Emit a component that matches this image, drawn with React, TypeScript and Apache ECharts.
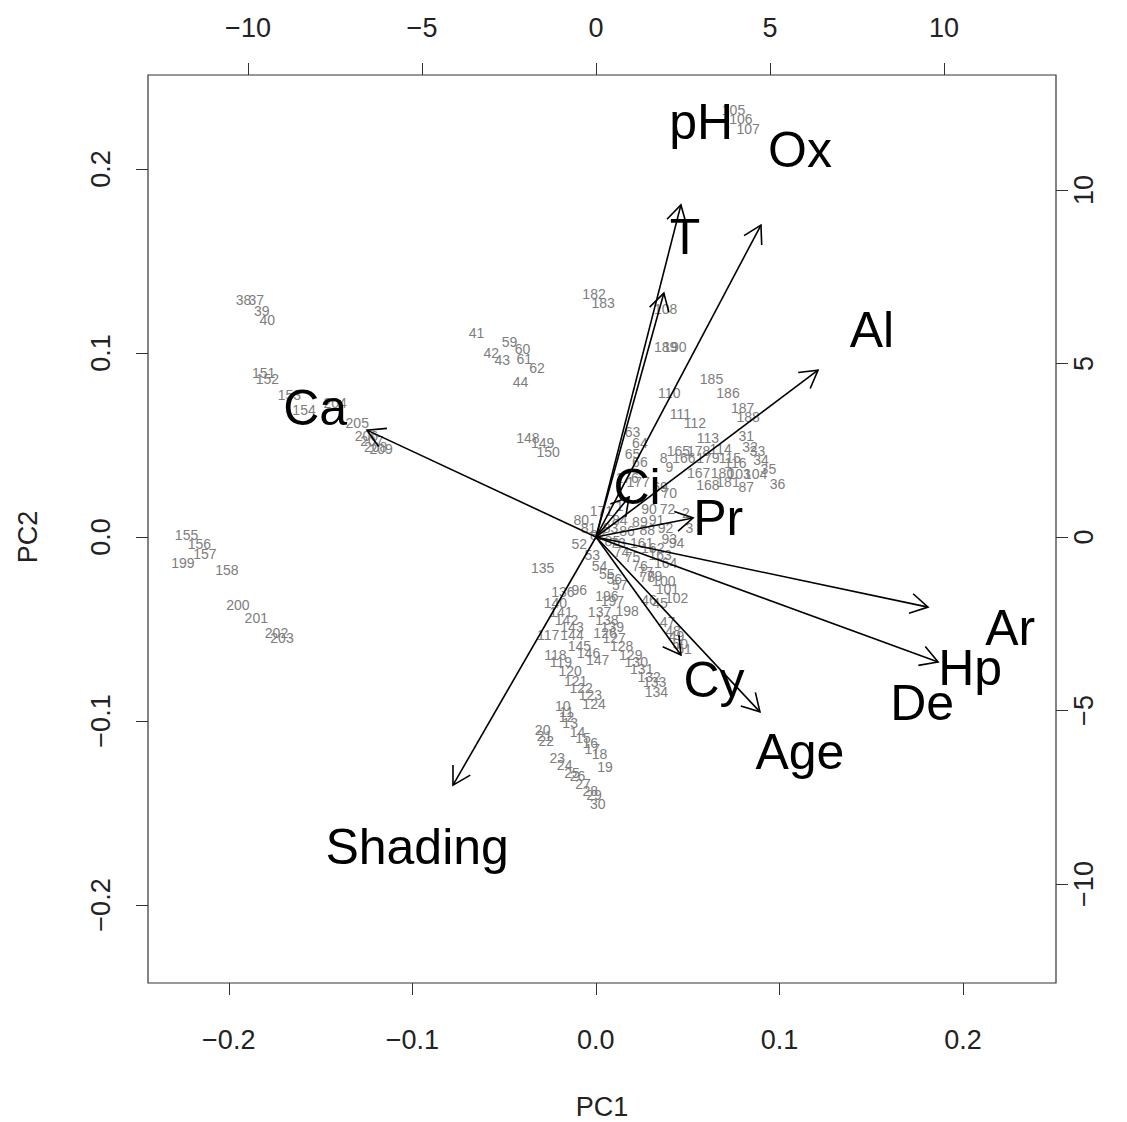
import React, { useEffect, useRef } from "react";
import * as echarts from "echarts";

// Sample scores (PC1 / PC2) and their row ids
const sampleIds = [
  "38", "37", "39", "40", "151", "152", "153", "154", "204", "205", "206", "207", "208", "209",
  "155", "156", "157", "199", "158", "200", "201", "202", "203",
  "41", "59", "60", "42", "43", "61", "62", "44", "148", "149", "150",
  "182", "183", "108", "189", "190", "105", "106", "107",
  "185", "110", "186", "187", "188", "111", "112", "113", "31", "114", "178", "32", "33",
  "165", "166", "179", "115", "116", "34", "35", "8", "9", "167", "180", "103", "104", "36",
  "168", "181", "87", "63", "64", "65", "66", "177", "176", "70", "69", "90", "72", "2", "3",
  "171", "80", "81", "91", "92", "93", "94", "52", "53", "54", "55", "56", "57",
  "73", "74", "75", "76", "77", "161", "162", "163", "164", "82", "83", "84", "85", "86", "88", "89", "1",
  "78", "79", "100", "101", "102", "196", "197", "198", "45", "46", "47", "48", "49", "50", "51",
  "135", "136", "96", "140", "141", "137", "138", "139", "142", "143",
  "126", "127", "128", "129", "130", "131", "132", "133", "134",
  "144", "145", "146", "147", "117", "118", "119", "120", "121", "122", "123", "124",
  "10", "11", "12", "13", "14", "15", "16", "17", "18", "19",
  "20", "21", "22", "23", "24", "25", "26", "27", "28", "29", "30",
];

const pc1 = [
  -0.192, -0.185, -0.182, -0.179, -0.181, -0.179, -0.167, -0.159, -0.142, -0.130, -0.125, -0.122, -0.120, -0.117,
  -0.223, -0.216, -0.213, -0.225, -0.201, -0.195, -0.185, -0.174, -0.171,
  -0.065, -0.047, -0.040, -0.057, -0.051, -0.039, -0.032, -0.041, -0.037, -0.029, -0.026,
  -0.001, 0.004, 0.038, 0.038, 0.043, 0.075, 0.079, 0.083,
  0.063, 0.040, 0.072, 0.080, 0.083, 0.046, 0.054, 0.061, 0.082, 0.068, 0.056, 0.084, 0.088,
  0.045, 0.048, 0.061, 0.073, 0.076, 0.090, 0.094, 0.037, 0.040, 0.056, 0.069, 0.078, 0.087, 0.099,
  0.061, 0.072, 0.082, 0.020, 0.024, 0.020, 0.024, 0.023, 0.017, 0.040, 0.035, 0.029, 0.039, 0.049, 0.051,
  0.003, -0.008, -0.004, 0.033, 0.038, 0.040, 0.044, -0.009, -0.002, 0.002, 0.006, 0.010, 0.013,
  0.012, 0.014, 0.020, 0.024, 0.027, 0.025, 0.031, 0.035, 0.038, 0.001, 0.008, 0.013, 0.009, 0.017, 0.028, 0.024, 0.013,
  0.028, 0.032, 0.037, 0.039, 0.044, 0.006, 0.009, 0.017, 0.035, 0.029, 0.039, 0.042, 0.044, 0.046, 0.048,
  -0.029, -0.018, -0.009, -0.022, -0.019, 0.002, 0.006, 0.009, -0.016, -0.013,
  0.005, 0.010, 0.014, 0.019, 0.022, 0.025, 0.029, 0.032, 0.033,
  -0.013, -0.009, -0.004, 0.001, -0.026, -0.022, -0.019, -0.014, -0.011, -0.008, -0.003, -0.001,
  -0.018, -0.016, -0.016, -0.014, -0.010, -0.007, -0.003, -0.002, 0.002, 0.005,
  -0.029, -0.028, -0.027, -0.021, -0.017, -0.013, -0.010, -0.007, -0.003, -0.001, 0.001,
];

const pc2 = [
  0.129, 0.129, 0.123, 0.118, 0.089, 0.086, 0.077, 0.069, 0.073, 0.062, 0.055, 0.052, 0.049, 0.048,
  0.001, -0.004, -0.009, -0.014, -0.018, -0.037, -0.044, -0.052, -0.055,
  0.111, 0.106, 0.102, 0.100, 0.096, 0.097, 0.092, 0.084, 0.054, 0.051, 0.046,
  0.132, 0.127, 0.124, 0.103, 0.103, 0.232, 0.227, 0.222,
  0.086, 0.078, 0.078, 0.070, 0.065, 0.067, 0.062, 0.054, 0.055, 0.048, 0.047, 0.049, 0.047,
  0.047, 0.043, 0.043, 0.043, 0.040, 0.042, 0.037, 0.043, 0.038, 0.035, 0.035, 0.034, 0.034, 0.029,
  0.028, 0.030, 0.027, 0.057, 0.051, 0.045, 0.041, 0.030, 0.032, 0.024, 0.027, 0.015, 0.015, 0.013, 0.005,
  0.014, 0.009, 0.005, 0.009, 0.005, -0.001, -0.003, -0.004, -0.010, -0.016, -0.020, -0.023, -0.026,
  -0.003, -0.008, -0.011, -0.016, -0.019, -0.003, -0.006, -0.010, -0.014, 0.001, 0.005, 0.009, -0.002, 0.003, 0.004, 0.008, 0.017,
  -0.022, -0.021, -0.024, -0.028, -0.033, -0.032, -0.035, -0.040, -0.036, -0.034, -0.046, -0.051, -0.054, -0.058, -0.061,
  -0.017, -0.030, -0.029, -0.036, -0.041, -0.041, -0.045, -0.049, -0.045, -0.049,
  -0.052, -0.055, -0.059, -0.064, -0.068, -0.072, -0.076, -0.079, -0.084,
  -0.053, -0.059, -0.063, -0.067, -0.053, -0.064, -0.068, -0.073, -0.078, -0.082, -0.086, -0.091,
  -0.092, -0.095, -0.098, -0.101, -0.106, -0.109, -0.112, -0.115, -0.118, -0.125,
  -0.105, -0.108, -0.111, -0.120, -0.124, -0.128, -0.130, -0.134, -0.138, -0.140, -0.145,
];

// Variable loadings (arrow tips) on the top/right scale, and label positions
const variables = ["Ca", "Shading", "Age", "Cy", "Ar", "Hp", "De", "Pr", "Al", "Ox", "pH", "T", "Ci"];
const loadX = [-6.58, -4.11, 4.71, 2.44, 9.54, 9.83, null, 2.79, 6.38, 4.74, 2.44, 1.95, 0.95];
const loadY = [3.08, -7.15, -5.04, -3.4, -2.02, -3.6, null, 0.55, 4.81, 8.99, 9.57, 7.03, 1.15];
const varLabelX = [-8.07, -5.14, 5.86, 3.39, 11.9, 10.75, 9.37, 3.51, 7.93, 5.86, 3.02, 2.56, 1.18];
const varLabelY = [3.72, -8.93, -6.2, -4.12, -2.62, -3.78, -4.78, 0.55, 5.97, 11.15, 11.96, 8.65, 1.44];

const pcTicks = [-0.2, -0.1, 0, 0.1, 0.2];
const loadTicks = [-10, -5, 0, 5, 10];

const FONT = '"Liberation Sans", Arial, Helvetica, sans-serif';
const AXIS_COLOR = "#333";
const LABEL_COLOR = "#222";

const fmt = (v: number, d: number) => (v < 0 ? "\u2212" : "") + Math.abs(v).toFixed(d);

export default function App() {
  const ref = useRef<HTMLDivElement>(null);

  useEffect(() => {
    if (!ref.current) return;
    const chart = echarts.init(ref.current, undefined, { renderer: "svg" });

    const tickCommon = { show: true, inside: false, length: 12, lineStyle: { color: AXIS_COLOR, width: 1 } };
    const labelCommon = { color: LABEL_COLOR, fontSize: 27, fontFamily: FONT };
    const hiddenLine = { show: false, onZero: false };

    const arrowData: number[][] = [];
    loadX.forEach((x, i) => {
      const y = loadY[i];
      if (x !== null && y !== null) arrowData.push([x as number, y as number]);
    });

    chart.setOption({
      animation: false,
      backgroundColor: "#fff",
      grid: {
        left: 148,
        top: 75,
        width: 908,
        height: 908,
        show: true,
        borderColor: AXIS_COLOR,
        borderWidth: 1.2,
        backgroundColor: "transparent",
      },
      xAxis: [
        {
          type: "value",
          position: "bottom",
          min: -0.244,
          max: 0.2507,
          axisLine: hiddenLine,
          splitLine: { show: false },
          axisTick: { ...tickCommon, customValues: pcTicks },
          axisLabel: { ...labelCommon, margin: 43, customValues: pcTicks, formatter: (v: number) => fmt(v, 1) },
        },
        {
          type: "value",
          position: "top",
          min: -12.874,
          max: 13.218,
          axisLine: hiddenLine,
          splitLine: { show: false },
          axisTick: { ...tickCommon, customValues: loadTicks },
          axisLabel: { ...labelCommon, margin: 34, customValues: loadTicks, formatter: (v: number) => fmt(v, 0) },
        },
      ],
      yAxis: [
        {
          type: "value",
          position: "left",
          min: -0.2424,
          max: 0.2511,
          axisLine: hiddenLine,
          splitLine: { show: false },
          axisTick: { ...tickCommon, customValues: pcTicks },
          axisLabel: { ...labelCommon, rotate: 90, margin: 34, customValues: pcTicks, formatter: (v: number) => fmt(v, 1) },
        },
        {
          type: "value",
          position: "right",
          min: -12.853,
          max: 13.314,
          axisLine: hiddenLine,
          splitLine: { show: false },
          axisTick: { ...tickCommon, customValues: loadTicks },
          axisLabel: { ...labelCommon, rotate: 90, margin: 14, customValues: loadTicks, formatter: (v: number) => fmt(v, 0) },
        },
      ],
      graphic: [
        {
          type: "text",
          x: 602,
          y: 1107,
          style: { text: "PC1", fill: LABEL_COLOR, font: `27px ${FONT}`, align: "center", verticalAlign: "middle" },
        },
        {
          type: "text",
          x: 28,
          y: 537,
          rotation: Math.PI / 2,
          style: { text: "PC2", fill: LABEL_COLOR, font: `27px ${FONT}`, align: "center", verticalAlign: "middle" },
        },
      ],
      series: [
        {
          type: "custom",
          name: "samples",
          xAxisIndex: 0,
          yAxisIndex: 0,
          data: pc1.map((x, i) => [x, pc2[i]]),
          renderItem: (params: any, api: any) => {
            const p = api.coord([api.value(0), api.value(1)]);
            return {
              type: "text",
              x: p[0],
              y: p[1],
              style: {
                text: sampleIds[params.dataIndex],
                fill: "#7d7d7d",
                font: `14px ${FONT}`,
                align: "center",
                verticalAlign: "middle",
              },
            };
          },
        },
        {
          type: "custom",
          name: "loadings",
          xAxisIndex: 1,
          yAxisIndex: 1,
          data: arrowData,
          renderItem: (_params: any, api: any) => {
            const o = api.coord([0, 0]);
            const t = api.coord([api.value(0), api.value(1)]);
            const ang = Math.atan2(t[1] - o[1], t[0] - o[0]);
            const L = 20;
            const a = Math.PI / 6;
            const b1 = [t[0] - L * Math.cos(ang - a), t[1] - L * Math.sin(ang - a)];
            const b2 = [t[0] - L * Math.cos(ang + a), t[1] - L * Math.sin(ang + a)];
            return {
              type: "group",
              children: [
                {
                  type: "line",
                  shape: { x1: o[0], y1: o[1], x2: t[0], y2: t[1] },
                  style: { stroke: "#000", lineWidth: 1.6 },
                },
                {
                  type: "polyline",
                  shape: { points: [b1, t, b2] },
                  style: { stroke: "#000", lineWidth: 1.6, fill: "none" },
                },
              ],
            };
          },
        },
        {
          type: "custom",
          name: "variables",
          xAxisIndex: 1,
          yAxisIndex: 1,
          data: varLabelX.map((x, i) => [x, varLabelY[i]]),
          renderItem: (params: any, api: any) => {
            const p = api.coord([api.value(0), api.value(1)]);
            return {
              type: "text",
              x: p[0],
              y: p[1],
              style: {
                text: variables[params.dataIndex],
                fill: "#000",
                font: `50px ${FONT}`,
                align: "center",
                verticalAlign: "middle",
              },
            };
          },
        },
      ],
    });

    return () => chart.dispose();
  }, []);

  return (
    <div
      ref={ref}
      style={{ position: "absolute", left: 0, top: 0, width: 1127, height: 1122, background: "#fff" }}
    />
  );
}
